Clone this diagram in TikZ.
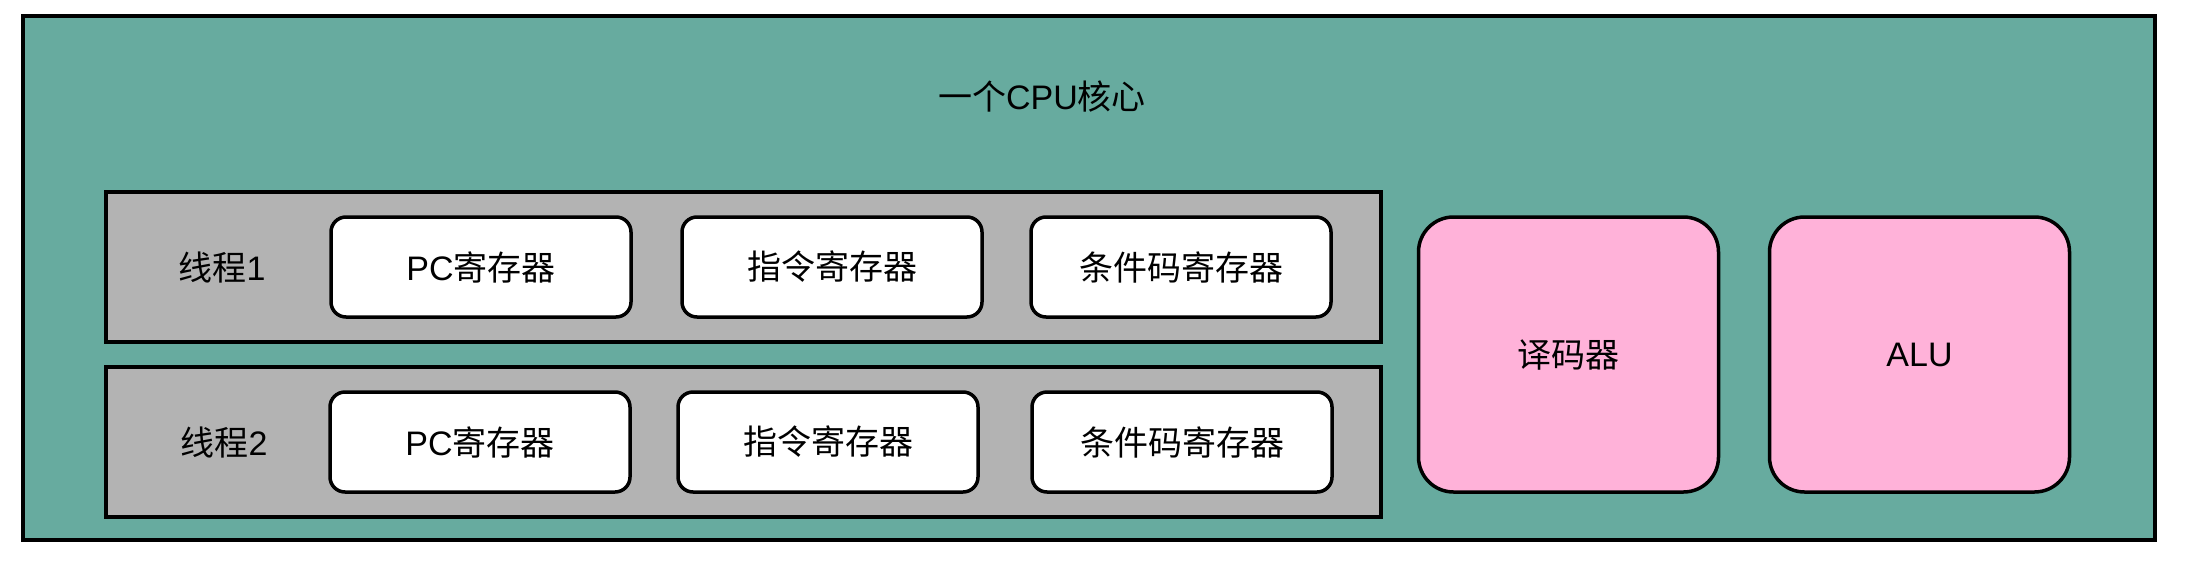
\documentclass[tikz,border=0pt]{standalone}
\usepackage{fontspec}
\setmainfont{Liberation Sans}
\newfontfamily\hei{Noto Sans CJK SC}
\usepackage{xcolor}
\usetikzlibrary{positioning}
\definecolor{coreteal}{HTML}{67AB9F}
\definecolor{threadgray}{HTML}{B3B3B3}
\definecolor{unitpink}{HTML}{FFB2D9}
\tikzset{
  %generic box style
  box/.style={
    draw
    , line width=3.5pt
    , anchor=center
    , text centered
    , inner sep=0pt
    , outer sep=0pt
    , font=\fontsize{34}{40}\selectfont
  },
  %thread frame style
  thread/.style={
    box
    , fill=threadgray
    , line width=4pt
    , minimum width=1275pt
    , minimum height=150pt
  },
}

\begin{document}
\begin{tikzpicture}[x=1pt, y=-1pt]
  \tikzstyle{reg}=[box, fill=white, rounded corners=15pt,
                   minimum width=300pt, minimum height=100pt]
  \tikzstyle{unit}=[box, fill=unitpink, rounded corners=35pt,
                    minimum width=300pt, minimum height=275pt]
  \tikzstyle{label}=[font=\fontsize{34}{40}\selectfont]
  \useasboundingbox (0,0) rectangle (2200,560);

  % the core
  \node [box, fill=coreteal, line width=4pt, minimum width=2132pt,
         minimum height=524pt] (core) at (1089,278) {};
  \node [label] (title) at (1042,97) {{\hei 一个}CPU{\hei 核心}};

  % thread 1
  \node [thread] (t1) at (743.5,267) {};
  \node [label] (t1-name) at (222,268) {{\hei 线程}1};
  \node [reg] (pc1) at (481,267) {PC{\hei 寄存器}};
  \node [reg,right=51pt of pc1] (ir1) {{\hei 指令寄存器}};
  \node [reg,right=49pt of ir1] (cc1) {{\hei 条件码寄存器}};

  % thread 2
  \node [thread] (t2) at (743.5,442) {};
  \node [label] (t2-name) at (224,443) {{\hei 线程}2};
  \node [reg] (pc2) at (480,442) {PC{\hei 寄存器}};
  \node [reg,right=48pt of pc2] (ir2) {{\hei 指令寄存器}};
  \node [reg,right=54pt of ir2] (cc2) {{\hei 条件码寄存器}};

  % shared units
  \node [unit] (dec) at (1568.5,354.5) {{\hei 译码器}};
  \node [unit,right=51pt of dec] (alu) {ALU};

\end{tikzpicture}
\end{document}
